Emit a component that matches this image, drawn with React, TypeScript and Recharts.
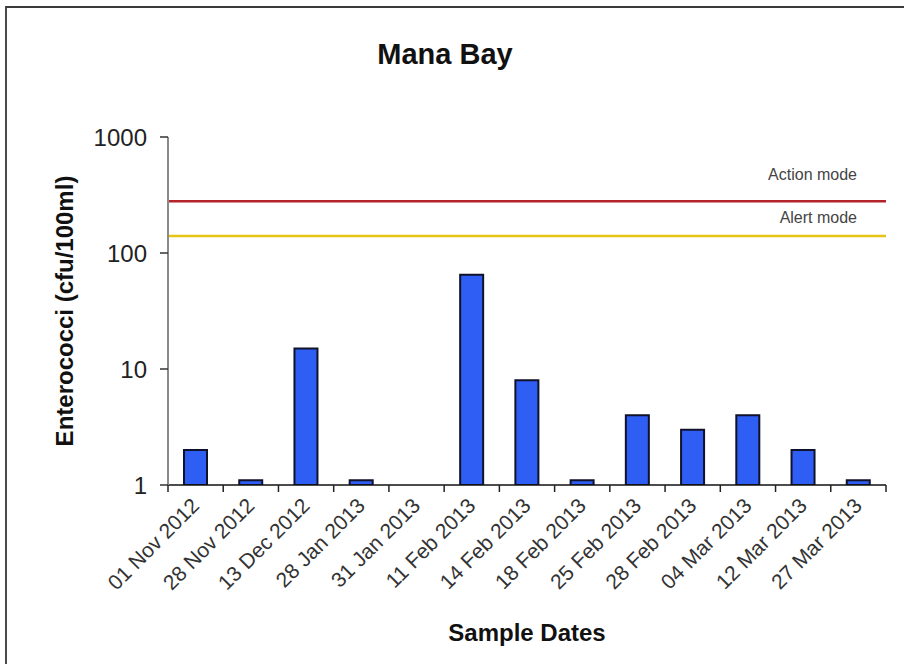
import React from 'react';
import { BarChart, Bar, XAxis, YAxis, ReferenceLine, Label } from 'recharts';

const categories = [
  '01 Nov 2012', '28 Nov 2012', '13 Dec 2012', '28 Jan 2013', '31 Jan 2013',
  '11 Feb 2013', '14 Feb 2013', '18 Feb 2013', '25 Feb 2013', '28 Feb 2013',
  '04 Mar 2013', '12 Mar 2013', '27 Mar 2013',
];
const enterococci: (number | null)[] = [2, 1.1, 15, 1.1, null, 65, 8, 1.1, 4, 3, 4, 2, 1.1];
const yTicks = [1, 10, 100, 1000];
const actionMode = 280;
const alertMode = 140;

const data = categories.map((date, i) => ({ date, value: enterococci[i] }));

const W = 904;
const H = 664;
const MARGIN = { top: 137, right: 18, left: 0, bottom: 0 };
const Y_AXIS_W = 168;
const X_AXIS_H = 179;
const BAND = (W - MARGIN.left - MARGIN.right - Y_AXIS_W) / categories.length;
const FONT = '"Liberation Sans", Arial, sans-serif';
const TICK_LEN = 7;

const XTick = (props: any) => {
  const { x, y, payload, index } = props;
  const axisY = y - TICK_LEN;
  const ax = x + 5;
  const ay = y + 15;
  return (
    <g>
      <line x1={x - BAND / 2} x2={x - BAND / 2} y1={axisY} y2={axisY + TICK_LEN} stroke="#222" strokeWidth={1.5} />
      {index === categories.length - 1 && (
        <line x1={x + BAND / 2} x2={x + BAND / 2} y1={axisY} y2={axisY + TICK_LEN} stroke="#222" strokeWidth={1.5} />
      )}
      <text
        x={ax}
        y={ay}
        textAnchor="end"
        fontSize={21}
        fontFamily={FONT}
        fill="#333"
        transform={`rotate(-45, ${ax}, ${ay})`}
      >
        {payload.value}
      </text>
    </g>
  );
};

const LineLabel = (text: string, dxFromRight: number, above: number) => (props: any) => {
  const vb = props.viewBox || {};
  return (
    <text
      x={vb.x + vb.width - dxFromRight}
      y={vb.y - above}
      textAnchor="end"
      fontSize={16}
      fontFamily={FONT}
      fill="#444"
    >
      {text}
    </text>
  );
};

export default function App() {
  return (
    <div style={{ position: 'absolute', left: 0, top: 0, width: W, height: H, background: '#fff' }}>
      <div
        style={{
          position: 'absolute',
          left: 5,
          top: 6,
          width: W - 5,
          height: H - 6,
          borderTop: '2px solid #3a3a3a',
          borderLeft: '2px solid #4a4a4a',
          boxSizing: 'border-box',
        }}
      />
      <div
        style={{
          position: 'absolute',
          left: 0,
          top: 40,
          width: 890,
          textAlign: 'center',
          fontFamily: FONT,
          fontWeight: 'bold',
          fontSize: 29,
          lineHeight: '29px',
          color: '#111',
        }}
      >
        Mana Bay
      </div>
      <div style={{ position: 'absolute', left: 0, top: 0 }}>
        <BarChart width={W} height={H} data={data} margin={MARGIN}>
          <XAxis
            dataKey="date"
            height={X_AXIS_H}
            interval={0}
            tickLine={false}
            tickSize={TICK_LEN}
            tickMargin={0}
            tick={<XTick />}
            axisLine={{ stroke: '#111', strokeWidth: 1.5 }}
          >
            <Label
              value="Sample Dates"
              position="insideBottom"
              offset={23}
              style={{ fontFamily: FONT, fontWeight: 'bold', fontSize: 24, fill: '#111' }}
            />
          </XAxis>
          <YAxis
            width={Y_AXIS_W}
            scale="log"
            domain={[1, 1000]}
            ticks={yTicks}
            allowDataOverflow
            tickSize={8}
            tickMargin={13}
            tick={{ fontSize: 24, fontFamily: FONT, fill: '#222' }}
            tickLine={{ stroke: '#333', strokeWidth: 1.5 }}
            axisLine={{ stroke: '#8a8a8a', strokeWidth: 2 }}
          >
            <Label
              value="Enterococci (cfu/100ml)"
              angle={-90}
              position="center"
              dx={-20}
              style={{ fontFamily: FONT, fontWeight: 'bold', fontSize: 24, fill: '#111' }}
            />
          </YAxis>
          <ReferenceLine y={actionMode} stroke="#B4222A" strokeWidth={2.5} label={LineLabel('Action mode', 29, 21)} />
          <ReferenceLine y={alertMode} stroke="#E6C417" strokeWidth={2.5} label={LineLabel('Alert mode', 29, 13)} />
          <Bar
            dataKey="value"
            fill="#2F5EF4"
            stroke="#10122a"
            strokeWidth={2}
            barSize={23}
            isAnimationActive={false}
          />
        </BarChart>
      </div>
    </div>
  );
}
